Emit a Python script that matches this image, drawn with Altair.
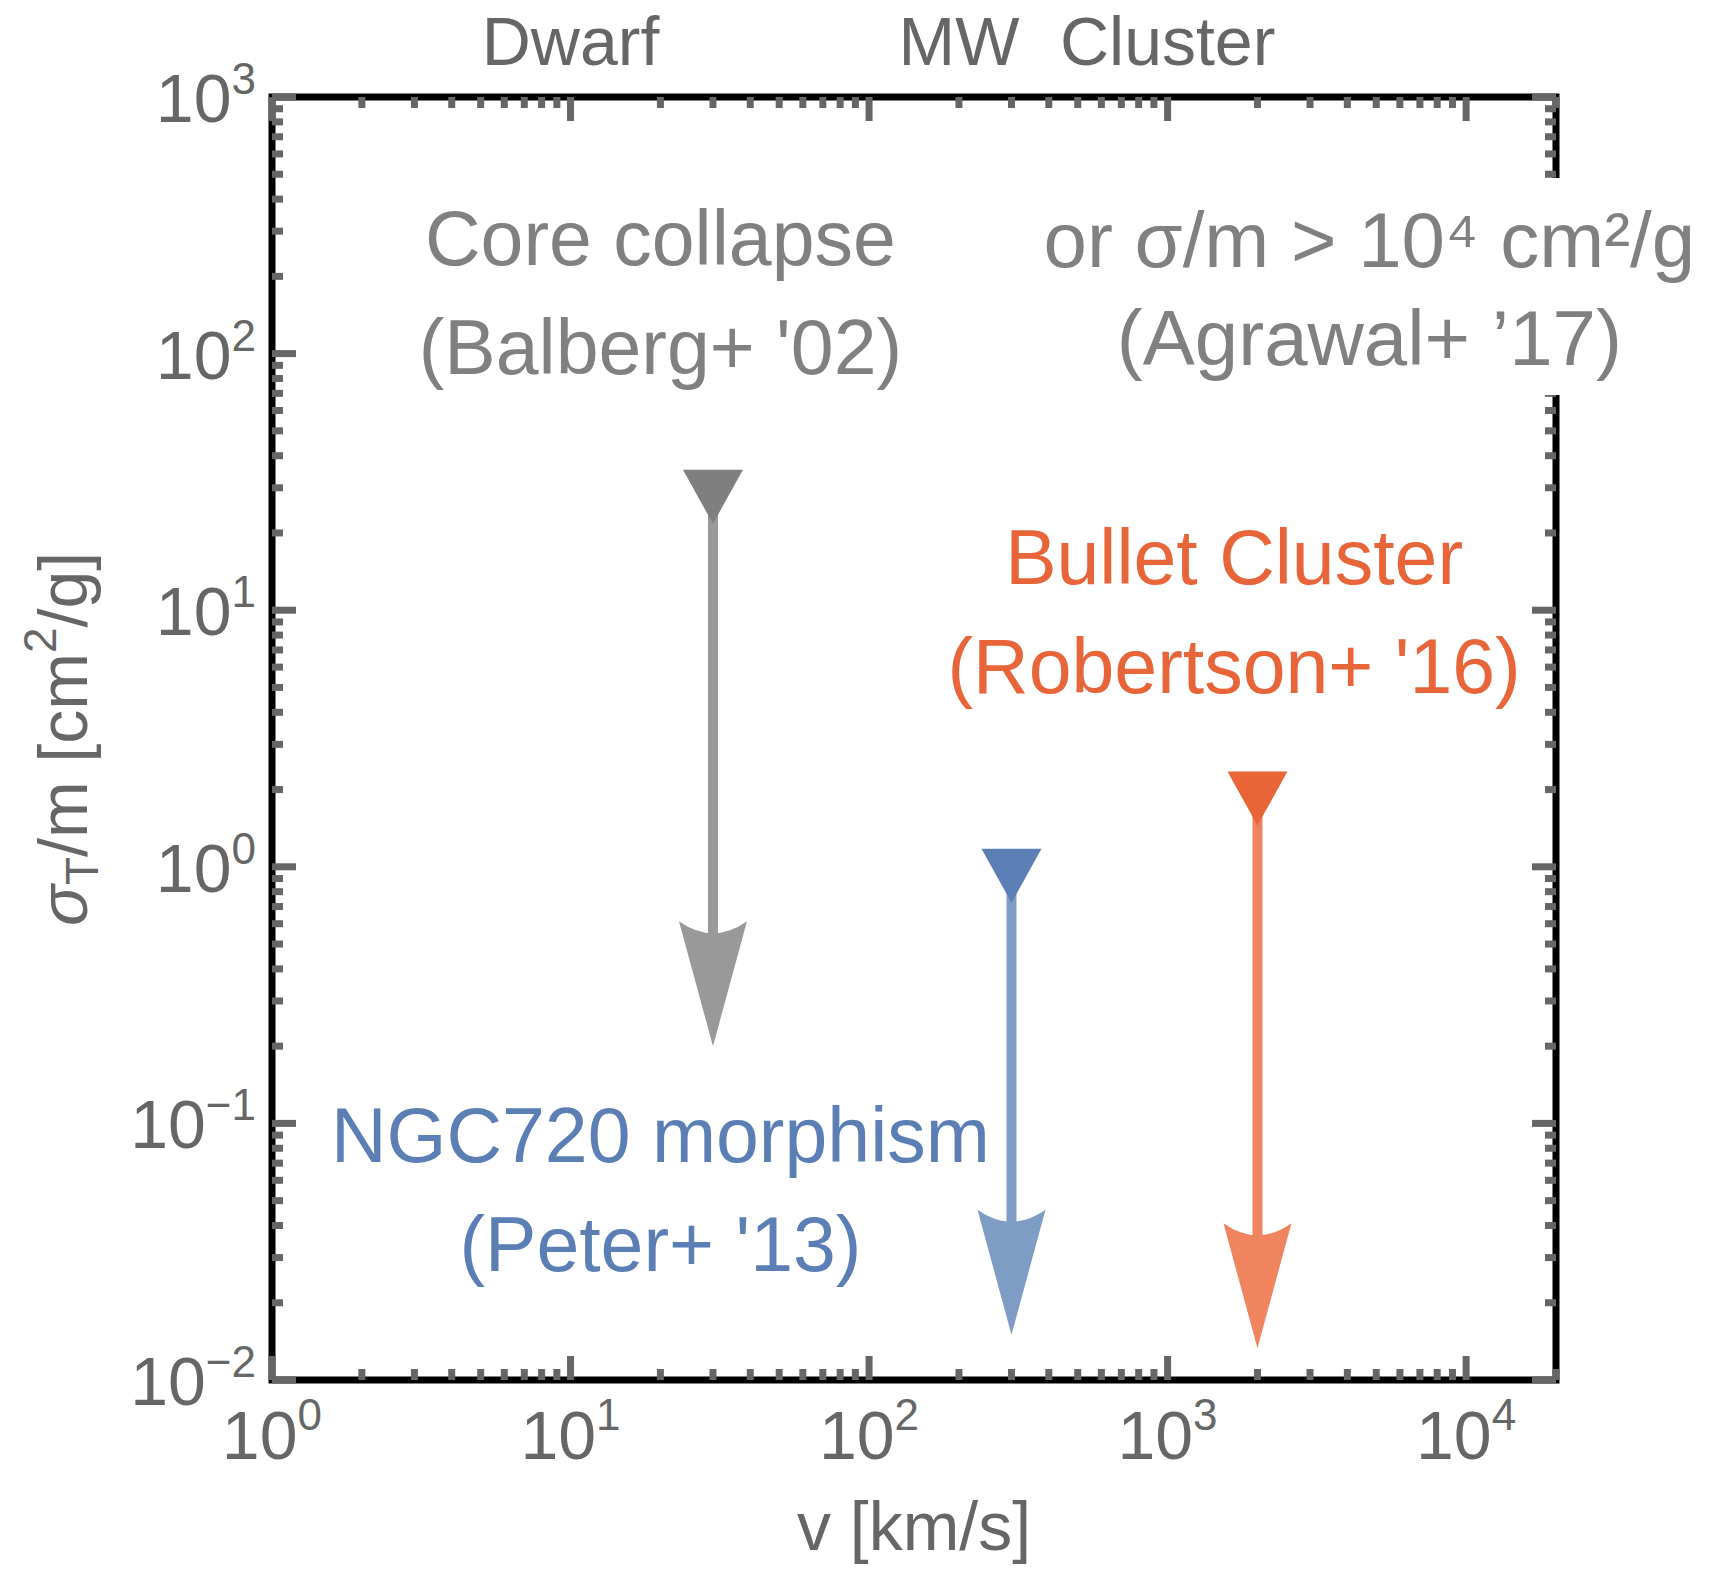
import altair as alt
import pandas as pd

FONT = "Liberation Sans"
LABEL_GREY = "#666666"
TICK_GREY = "#666666"

# ---------------- data ----------------
# upper-limit arrows: velocity [km/s], limit [cm^2/g], arrow tip [cm^2/g]
arrow_group = ["core", "ngc", "bullet"]
arrow_v = [30, 300, 2000]
arrow_top = [30, 1.0, 2.0]
arrow_tip = [0.2, 0.015, 0.0133]

# axis ticks
x_major = [1, 10, 100, 1000, 10000]
x_major_exp = ["0", "1", "2", "3", "4"]
x_minor = [2, 3, 4, 5, 6, 7, 8, 9,
           20, 30, 40, 50, 60, 70, 80, 90,
           200, 300, 400, 500, 600, 700, 800, 900,
           2000, 3000, 4000, 5000, 6000, 7000, 8000, 9000,
           20000]
y_major_pos = [1, 10, 100, 1000]
y_major_pos_exp = ["0", "1", "2", "3"]
y_major_neg = [0.01, 0.1]
y_major_neg_exp = ["\u22122", "\u22121"]
y_minor = [0.02, 0.03, 0.04, 0.05, 0.06, 0.07, 0.08, 0.09,
           0.2, 0.3, 0.4, 0.5, 0.6, 0.7, 0.8, 0.9,
           2, 3, 4, 5, 6, 7, 8, 9,
           20, 30, 40, 50, 60, 70, 80, 90,
           200, 300, 400, 500, 600, 700, 800, 900]

# top labels
top_text = ["Dwarf", "MW", "Cluster"]
top_v = [10, 200, 1000]

# annotations (anchor in data units)
ann_text = ["Core collapse", "(Balberg+ '02)",
            "Bullet Cluster", "(Robertson+ '16)",
            "NGC720 morphism", "(Peter+ '13)"]
ann_v = [20, 20, 1670, 1670, 20, 20]
ann_s = [221, 83.3, 12.65, 4.755, 0.0707, 0.0266]
ann_group = ["core", "core", "bullet", "bullet", "ngc", "ngc"]

agr_text = ["or \u03c3/m > 10\u2074 cm\u00b2/g", "(Agrawal+ \u201917)"]
agr_v = [4740, 4740]
agr_s = [217.5, 89.9]

# ---------------- styling ----------------
groups = ["core", "ngc", "bullet"]
line_colors = ["#999999", "#7f9cc4", "#f0845f"]
marker_colors = ["#7f7f7f", "#5b7fb4", "#e96436"]
text_colors = ["#808080", "#5b7fb4", "#e8653a"]

W, H = 1284, 1283
xs = alt.Scale(type="log", domain=[1, 20000], nice=False)
ys = alt.Scale(type="log", domain=[0.01, 1000], nice=False)


def xf(f):
    return alt.X(f, type="quantitative", scale=xs, axis=None)


def yf(f):
    return alt.Y(f, type="quantitative", scale=ys, axis=None)


def xd(v):
    return alt.XDatum(v, type="quantitative", scale=xs, axis=None)


def yd(v):
    return alt.YDatum(v, type="quantitative", scale=ys, axis=None)


one = pd.DataFrame({"a": [0]})
layers = []

# frame
layers.append(
    alt.Chart(one).mark_rect(fillOpacity=0, stroke="black", strokeWidth=7).encode(
        x=xd(1), x2=alt.X2Datum(20000), y=yd(0.01), y2=alt.Y2Datum(1000)
    )
)


def ticks(vals, side, L, w):
    d = pd.DataFrame({"v": vals})
    c = alt.Chart(d)
    if side == "bottom":
        return c.mark_rule(color=TICK_GREY, strokeWidth=w, y2Offset=-L).encode(
            x=xf("v"), y=yd(0.01), y2=alt.Y2Datum(0.01))
    if side == "top":
        return c.mark_rule(color=TICK_GREY, strokeWidth=w, y2Offset=L).encode(
            x=xf("v"), y=yd(1000), y2=alt.Y2Datum(1000))
    if side == "left":
        return c.mark_rule(color=TICK_GREY, strokeWidth=w, x2Offset=L).encode(
            y=yf("v"), x=xd(1), x2=alt.X2Datum(1))
    return c.mark_rule(color=TICK_GREY, strokeWidth=w, x2Offset=-L).encode(
        y=yf("v"), x=xd(20000), x2=alt.X2Datum(20000))


y_major_all = y_major_neg + y_major_pos
for side in ["bottom", "top"]:
    layers.append(ticks(x_minor, side, 11, 7))
    layers.append(ticks(x_major, side, 24, 7))
for side in ["left", "right"]:
    layers.append(ticks(y_minor, side, 11, 7))
    layers.append(ticks(y_major_all, side, 24, 7))

# white box behind the Agrawal label (breaks the right frame)
layers.append(
    alt.Chart(one).mark_rect(color="white").encode(
        x=xd(1000), x2=alt.X2Datum(40000), y=yd(69), y2=alt.Y2Datum(483)
    )
)

# arrows
adf = pd.DataFrame({"g": arrow_group, "v": arrow_v, "top": arrow_top, "tip": arrow_tip})
line_scale = alt.Scale(domain=groups, range=line_colors)
marker_scale = alt.Scale(domain=groups, range=marker_colors)

HEAD = "M0,0 L-0.544,-2 Q0,-1.616 0.544,-2 Z"
TRI = "M-1,-0.6 L1,-0.6 L0,1.2 Z"

layers.append(
    alt.Chart(adf).mark_rule(strokeWidth=10, y2Offset=-100).encode(
        x=xf("v"), y=yf("top"), y2=alt.Y2("tip"),
        color=alt.Color("g:N", scale=line_scale, legend=None))
)
layers.append(
    alt.Chart(adf).mark_point(shape=HEAD, size=15625, filled=True, opacity=1, strokeWidth=0).encode(
        x=xf("v"), y=yf("tip"),
        color=alt.Color("g:N", scale=line_scale, legend=None))
)
layers.append(
    alt.Chart(adf).mark_point(shape=TRI, size=3600, filled=True, opacity=1, strokeWidth=0).encode(
        x=xf("v"), y=yf("top"),
        color=alt.Color("g:N", scale=marker_scale, legend=None))
)

# annotations
tdf = pd.DataFrame({"t": ann_text, "v": ann_v, "s": ann_s, "g": ann_group})
layers.append(
    alt.Chart(tdf).mark_text(font=FONT, fontSize=77, align="center", baseline="alphabetic").encode(
        x=xf("v"), y=yf("s"), text="t:N",
        color=alt.Color("g:N", scale=alt.Scale(domain=groups, range=text_colors), legend=None))
)
gdf = pd.DataFrame({"t": agr_text, "v": agr_v, "s": agr_s})
layers.append(
    alt.Chart(gdf).mark_text(font=FONT, fontSize=78, align="center", baseline="alphabetic",
                             color="#808080").encode(
        x=xf("v"), y=yf("s"), text="t:N")
)

# x tick labels: "10" + exponent
xl = pd.DataFrame({"v": x_major, "e": x_major_exp})
layers.append(
    alt.Chart(xl).mark_text(text="10", font=FONT, fontSize=68, align="right", baseline="alphabetic",
                            dx=25.5, dy=79, color=LABEL_GREY).encode(x=xf("v"), y=yd(0.01))
)
layers.append(
    alt.Chart(xl).mark_text(font=FONT, fontSize=44, align="left", baseline="alphabetic",
                            dx=25.5, dy=50, color=LABEL_GREY).encode(x=xf("v"), y=yd(0.01), text="e:N")
)

# y tick labels
ylp = pd.DataFrame({"v": y_major_pos, "e": y_major_pos_exp})
yln = pd.DataFrame({"v": y_major_neg, "e": y_major_neg_exp})
for d, off in [(ylp, -40.5), (yln, -66.2)]:
    layers.append(
        alt.Chart(d).mark_text(text="10", font=FONT, fontSize=68, align="right", baseline="alphabetic",
                               dx=off, dy=25, color=LABEL_GREY).encode(x=xd(1), y=yf("v"))
    )
    layers.append(
        alt.Chart(d).mark_text(font=FONT, fontSize=44, align="right", baseline="alphabetic",
                               dx=-16, dy=-3, color=LABEL_GREY).encode(x=xd(1), y=yf("v"), text="e:N")
    )

# top labels
tl = pd.DataFrame({"t": top_text, "v": top_v})
layers.append(
    alt.Chart(tl).mark_text(font=FONT, fontSize=68, align="center", baseline="alphabetic",
                            dy=-32, color=LABEL_GREY).encode(x=xf("v"), y=yd(1000), text="t:N")
)

# x axis title
layers.append(
    alt.Chart(one).mark_text(text="v [km/s]", font=FONT, fontSize=68, align="center",
                             baseline="alphabetic", color=LABEL_GREY).encode(
        x=alt.value(W / 2), y=alt.value(H + 170))
)

# y axis title, built from pieces (sigma italic, subscript T, superscript 2)
bx = -185
pieces = [
    ("\u03c3", 68, "italic", bx, 829),
    ("T", 46, "normal", bx + 11, 788),
    ("/m [cm", 68, "normal", bx, 760),
    ("2", 46, "normal", bx - 31, 556),
    ("/g]", 68, "normal", bx, 530.4),
]
for txt, fs, st, px, py in pieces:
    layers.append(
        alt.Chart(one).mark_text(text=txt, font=FONT, fontSize=fs, fontStyle=st, angle=270,
                                 align="left", baseline="alphabetic", color=LABEL_GREY).encode(
            x=alt.value(px), y=alt.value(py))
    )

chart = (
    alt.layer(*layers)
    .resolve_scale(color="independent")
    .properties(
        width=W, height=H,
        autosize=alt.AutoSizeParams(type="none"),
        padding={"left": 272, "top": 97, "right": 155, "bottom": 190},
    )
    .configure_view(strokeWidth=0)
)

chart.save("out.html", embed_options={"renderer": "svg", "actions": False})
